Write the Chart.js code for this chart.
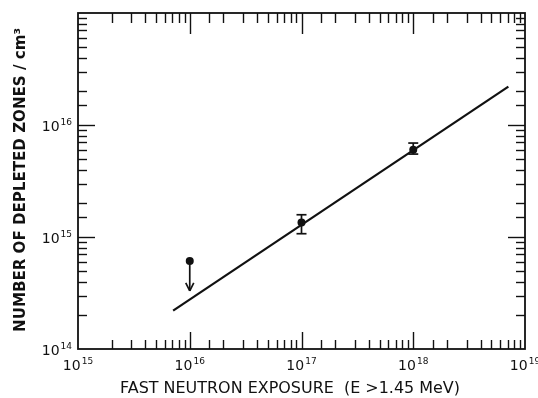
<!DOCTYPE html>
<html>
<head>
<meta charset="utf-8">
<script src="https://cdn.jsdelivr.net/npm/chart.js@4.4.1/dist/chart.umd.min.js"></script>
<style>
  html, body { margin: 0; background: #fff; }
  #wrap { width: 538px; height: 398px; }
</style>
</head>
<body>
<div id="wrap"><canvas id="c" width="538" height="398"></canvas></div>
<script>
// measured depleted-zone densities (cm^-3) vs. fast neutron exposure
const pointX = [1e17, 1e18];
const pointY = [1.35e15, 6.0e15];
const errLo  = [1.07e15, 5.5e15];
const errHi  = [1.58e15, 6.9e15];

// upper limit at the lowest exposure (drawn with a downward arrow)
const limitX  = [1e16];
const limitY  = [6.1e14];
const limitTo = [3.3e14];

// fitted line
const fitX = [7.1e15, 7.1e18];
const fitY = [2.2e14, 2.2e16];

// decade tick labels
const xDecades = [15, 16, 17, 18, 19];
const yDecades = [14, 15, 16];

const xTitle = 'FAST NEUTRON EXPOSURE  (E >1.45 MeV)';
const yTitle = 'NUMBER OF DEPLETED ZONES / cm\u00B3';

const INK = '#111';
const FONT = '"DejaVu Sans", sans-serif';

function seg(ctx, x1, y1, x2, y2){
  ctx.beginPath(); ctx.moveTo(x1, y1); ctx.lineTo(x2, y2); ctx.stroke();
}

// draw text squeezed/stretched to a given width
function fitText(ctx, txt, cx, cy, w, rot){
  const m = ctx.measureText(txt).width;
  ctx.save();
  ctx.translate(cx, cy);
  if (rot) ctx.rotate(rot);
  ctx.scale(w / m, 1);
  ctx.fillText(txt, 0, 0);
  ctx.restore();
}

// "10" with a raised exponent; anchor is 'center' or 'right'
function powerLabel(ctx, exp, x, baseline, anchor){
  const base = '10', sup = String(exp);
  ctx.font = '14px ' + FONT;
  const wb = ctx.measureText(base).width;
  ctx.font = '9px ' + FONT;
  const ws = ctx.measureText(sup).width;
  const total = wb + 1 + ws;
  const left = anchor === 'right' ? x - total : x - total / 2;
  ctx.textAlign = 'left';
  ctx.textBaseline = 'alphabetic';
  ctx.font = '14px ' + FONT;
  ctx.fillText(base, left, baseline);
  ctx.font = '9px ' + FONT;
  ctx.fillText(sup, left + wb + 1, baseline - 6);
}

function isDecade(v){
  const l = Math.log10(v);
  return Math.abs(l - Math.round(l)) < 1e-6;
}

const inkPlugin = {
  id: 'ink',
  afterDatasetsDraw(chart){
    const { ctx, scales: { x, y } } = chart;
    ctx.save();
    ctx.strokeStyle = INK;
    ctx.fillStyle = INK;
    ctx.lineWidth = 1.7;

    // error bars with caps
    pointX.forEach((v, i) => {
      const px = x.getPixelForValue(v);
      const t = y.getPixelForValue(errHi[i]);
      const b = y.getPixelForValue(errLo[i]);
      seg(ctx, px, t, px, b);
      seg(ctx, px - 5, t, px + 5, t);
      seg(ctx, px - 5, b, px + 5, b);
    });

    // upper-limit arrow
    limitX.forEach((v, i) => {
      const px = x.getPixelForValue(v);
      const t = y.getPixelForValue(limitY[i]);
      const b = y.getPixelForValue(limitTo[i]);
      seg(ctx, px, t, px, b);
      seg(ctx, px - 4, b - 8, px, b);
      seg(ctx, px + 4, b - 8, px, b);
    });
    ctx.restore();
  },
  afterDraw(chart){
    const { ctx, chartArea: a, scales: { x, y } } = chart;
    ctx.save();
    ctx.strokeStyle = INK;
    ctx.fillStyle = INK;

    // frame
    ctx.lineWidth = 1.8;
    ctx.strokeRect(a.left, a.top, a.right - a.left, a.bottom - a.top);

    // inward ticks on all four sides
    ctx.lineWidth = 1.4;
    x.ticks.forEach(t => {
      const px = Math.round(x.getPixelForValue(t.value)) + 0.5;
      if (px <= a.left + 1 || px >= a.right - 1) return;
      const len = isDecade(t.value) ? 17 : 9;
      seg(ctx, px, a.bottom, px, a.bottom - len);
      seg(ctx, px, a.top, px, a.top + (isDecade(t.value) ? 21 : 10));
    });
    y.ticks.forEach(t => {
      const py = Math.round(y.getPixelForValue(t.value)) + 0.5;
      if (py <= a.top + 1 || py >= a.bottom - 1) return;
      const len = isDecade(t.value) ? 17 : 9;
      seg(ctx, a.left, py, a.left + len, py);
      seg(ctx, a.right, py, a.right - len, py);
    });

    // decade labels
    xDecades.forEach(e => {
      powerLabel(ctx, e, x.getPixelForValue(Math.pow(10, e)), 370, 'center');
    });
    yDecades.forEach(e => {
      powerLabel(ctx, e, a.left - 6, y.getPixelForValue(Math.pow(10, e)) + 6, 'right');
    });

    // axis titles
    ctx.textAlign = 'center';
    ctx.textBaseline = 'middle';
    ctx.font = '15px ' + FONT;
    fitText(ctx, xTitle, 290, 389, 340, 0);
    ctx.font = 'bold 15px ' + FONT;
    fitText(ctx, yTitle, 21, 180, 304, -Math.PI / 2);
    ctx.restore();
  }
};

new Chart(document.getElementById('c'), {
  type: 'scatter',
  data: {
    datasets: [
      {
        type: 'line',
        data: fitX.map((v, i) => ({ x: v, y: fitY[i] })),
        borderColor: INK,
        borderWidth: 2.2,
        pointRadius: 0,
        fill: false
      },
      {
        data: pointX.map((v, i) => ({ x: v, y: pointY[i] }))
          .concat(limitX.map((v, i) => ({ x: v, y: limitY[i] }))),
        backgroundColor: INK,
        borderWidth: 0,
        pointRadius: 4
      }
    ]
  },
  options: {
    responsive: false,
    animation: false,
    layout: { padding: { top: 13, right: 13, left: 0, bottom: 0 } },
    plugins: { legend: { display: false }, tooltip: { enabled: false } },
    scales: {
      x: {
        type: 'logarithmic',
        min: 1e15, max: 1e19,
        grid: { display: false },
        border: { display: false },
        ticks: { display: false },
        afterFit(s){ s.height = 49; }
      },
      y: {
        type: 'logarithmic',
        min: 1e14, max: 1e17,
        grid: { display: false },
        border: { display: false },
        ticks: { display: false },
        afterFit(s){ s.width = 78; }
      }
    }
  },
  plugins: [inkPlugin]
});
</script>
</body>
</html>
